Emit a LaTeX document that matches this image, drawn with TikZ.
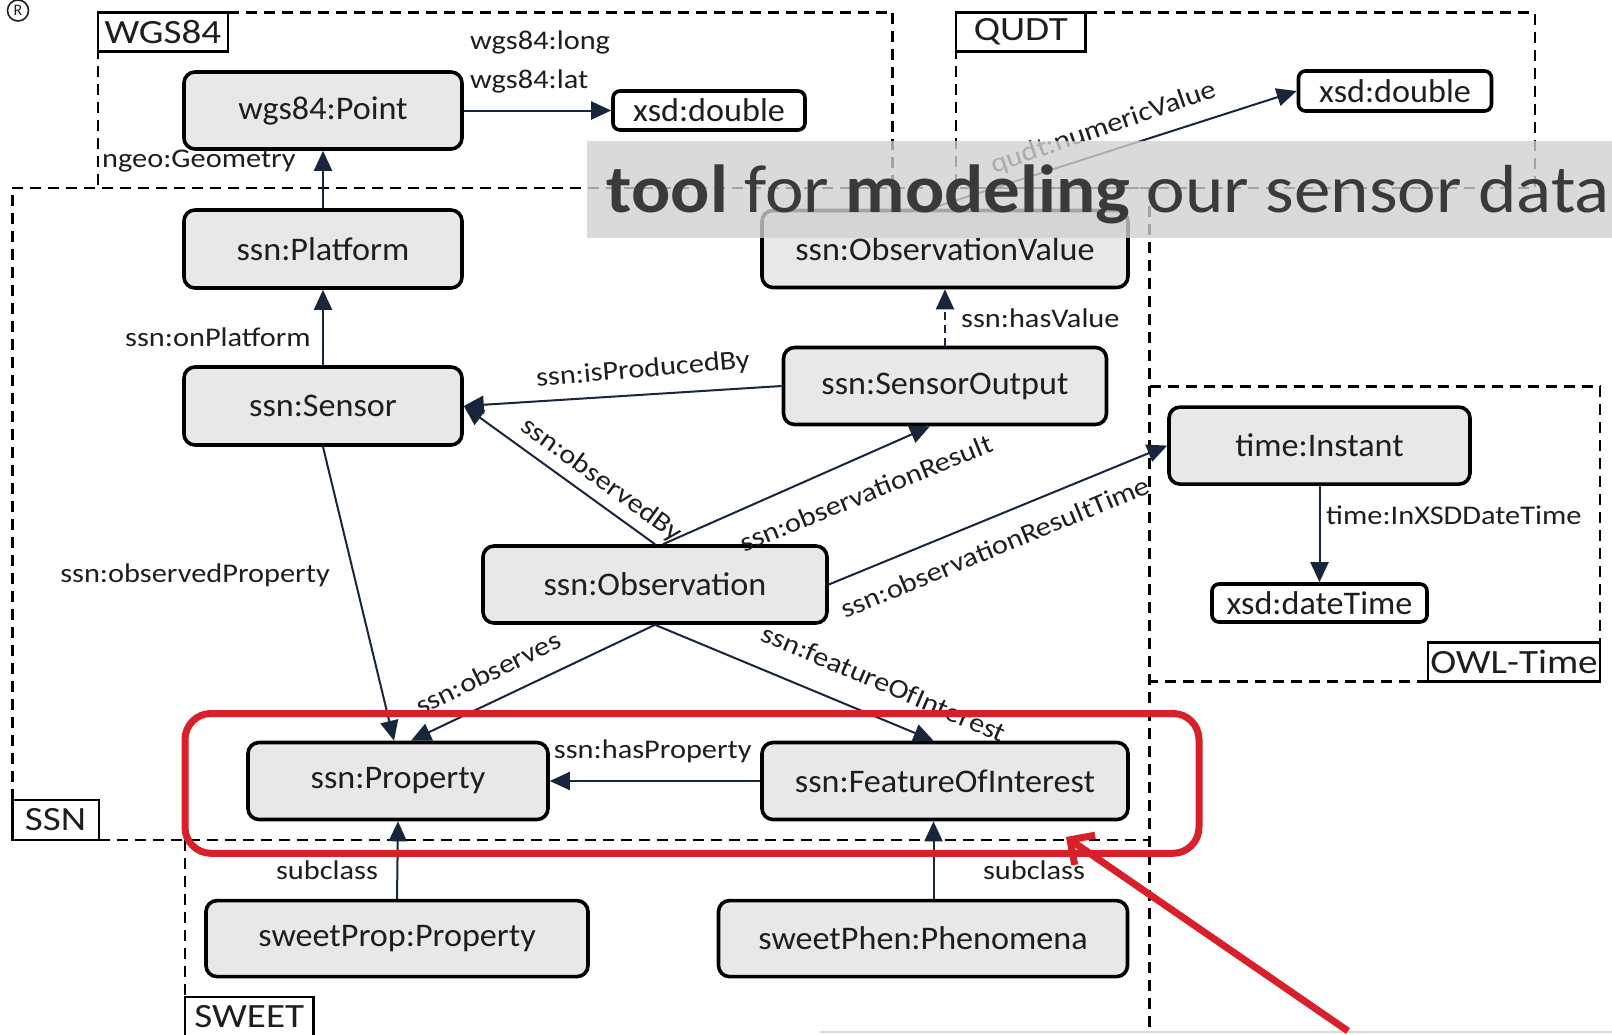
\documentclass[tikz,border=0pt]{standalone}
\usepackage{fontspec}
\setmainfont{Carlito}
\newfontfamily\classfont[FakeStretch=1.035]{Carlito}
\newfontfamily\propfont[FakeStretch=1.125]{Carlito}
\newfontfamily\groupfont[FakeStretch=1.15]{Carlito}
\newfontfamily\bannerfont[FakeStretch=1.075]{Carlito}
\usetikzlibrary{arrows.meta}

\definecolor{linkblue}{HTML}{17263B}
\definecolor{classfill}{HTML}{E8E8E8}
\definecolor{markred}{HTML}{D9202A}
\definecolor{bandgray}{HTML}{D1D1D1}
\definecolor{bandtext}{HTML}{3A3A3A}
\definecolor{inktext}{HTML}{1E1E1E}

\tikzset{
  classbox/.style={draw=black, line width=3.6pt, rounded corners=11pt,
    fill=classfill, text=inktext, inner sep=0pt,
    font=\classfont\fontsize{33}{38}\selectfont},
  valuebox/.style={classbox, fill=white, rounded corners=7pt},
  groupline/.style={draw=black, line width=2.4pt, dash pattern=on 11pt off 7pt},
  grouptag/.style={draw=black, line width=2.4pt, fill=white, inner sep=0pt,
    text=inktext, font=\groupfont\fontsize{34}{38}\selectfont},
  link/.style={draw=linkblue, line width=2pt,
    -{Triangle[length=20pt,width=18pt]}},
  linklabel/.style={text=inktext, inner sep=0pt,
    font=\propfont\fontsize{27}{31}\selectfont},
  marker/.style={draw=markred, line width=7pt},
}

\begin{document}
\begin{tikzpicture}[x=1pt,y=-1pt]
\useasboundingbox (0,0) rectangle (1612,1034);
\fill[white] (0,0) rectangle (1612,1034);

% ---------- ontology groups (dashed frames) ----------
% WGS84
\draw[groupline] (97.7,12.3) rectangle (892.4,188);
% QUDT
\draw[groupline] (956,12.3) rectangle (1535,188);
% SSN
\draw[groupline] (12.3,800) -- (12.3,188) -- (1149.5,188);
\draw[groupline] (98.7,840) -- (1149.5,840);
% common right border of SSN / SWEET
\draw[groupline] (1149.5,188) -- (1149.5,1034);
% SWEET
\draw[groupline] (185,840) -- (185,1000);
% OWL-Time
\draw[groupline] (1149.5,386.6) -- (1600,386.6) -- (1600,681.6) -- (1149.5,681.6);

\node[grouptag, minimum width=130pt, minimum height=39pt] (tagwgs) at (162.9,31.9) {WGS84};
\node[grouptag, minimum width=129.6pt, minimum height=39pt] (tagqudt) at (1020.8,31.9) {QUDT};
\node[grouptag, minimum width=86.4pt, minimum height=40pt] (tagssn) at (55.5,820) {SSN};
\node[grouptag, minimum width=128.6pt, minimum height=39pt] (tagsweet) at (249.3,1016.5) {SWEET};
\node[grouptag, minimum width=172pt, minimum height=39pt] (tagtime) at (1514,662) {OWL-Time};

% ---------- classes ----------
\node[classbox, minimum width=278pt, minimum height=77pt] (point) at (323,110.5) {wgs84:Point};
\node[valuebox, minimum width=192pt, minimum height=39pt] (dblwgs) at (709,110.5) {xsd:double};
\node[valuebox, minimum width=193pt, minimum height=40pt] (dblqudt) at (1395,91) {xsd:double};
\node[classbox, minimum width=278pt, minimum height=78pt] (platform) at (323,249) {ssn:Platform};
\node[classbox, minimum width=366pt, minimum height=77pt] (obsvalue) at (945,249) {ssn:ObservationValue};
\node[classbox, minimum width=278pt, minimum height=78pt] (sensor) at (323,406) {ssn:Sensor};
\node[classbox, minimum width=323pt, minimum height=77pt] (output) at (945,386) {ssn:SensorOutput};
\node[classbox, minimum width=301pt, minimum height=77pt] (instant) at (1319.5,445.6) {time:Instant};
\node[valuebox, minimum width=215pt, minimum height=38pt] (datetime) at (1319.5,603) {xsd:dateTime};
\node[classbox, minimum width=344pt, minimum height=77pt] (observation) at (655,584.5) {ssn:Observation};
\node[classbox, minimum width=300pt, minimum height=77pt] (property) at (398,781) {ssn:Property};
\node[classbox, minimum width=366pt, minimum height=77pt] (feature) at (945,781) {ssn:FeatureOfInterest};
\node[classbox, minimum width=382pt, minimum height=76pt] (sweetprop) at (397,938.6) {sweetProp:Property};
\node[classbox, minimum width=409pt, minimum height=76pt] (sweetphen) at (923,938.6) {sweetPhen:Phenomena};

% ---------- properties ----------
\draw[link] (point.east) -- (dblwgs.west);
\draw[link] (platform.north) -- (point.south);
\draw[link] (sensor.north) -- (platform.south);
\draw[link] (output.west) -- (sensor.east);
\draw[link] (observation.north) -- (sensor.east);
\draw[link] ([xshift=8pt]observation.north) -- ([xshift=-15pt]output.south);
\draw[link, dash pattern=on 8pt off 5pt] (output.north) -- (obsvalue.south);
\draw[link] ([xshift=-15pt]obsvalue.north) -- (dblqudt.west);
\draw[link] (observation.east) -- (instant.west);
\draw[link] (instant.south) -- (datetime.north);
\draw[link] (sensor.south) -- ([xshift=-4pt]property.north);
\draw[link] (observation.south) -- ([xshift=13pt]property.north);
\draw[link] (observation.south) -- ([xshift=-11.5pt]feature.north);
\draw[link] (feature.west) -- (property.east);
\draw[link] (sweetprop.north) -- (property.south);
\draw[link] ([xshift=10.5pt]sweetphen.north) -- ([xshift=-11.5pt]feature.south);

\node[linklabel, anchor=west] (lblong) at (470,42) {wgs84:long};
\node[linklabel, anchor=west] (lblat) at (470,81) {wgs84:lat};
\node[linklabel, anchor=west] (lbgeo) at (102,161) {ngeo:Geometry};
\node[linklabel] (lbonplat) at (218,337) {ssn:onPlatform};
\node[linklabel, rotate=5] (lbprod) at (643,370) {ssn:isProducedBy};
\node[linklabel, rotate=-36] (lbobsby) at (601,480) {ssn:observedBy};
\node[linklabel, rotate=22] (lbresult) at (866,493) {ssn:observationResult};
\node[linklabel, anchor=west] (lbvalue) at (961,318.7) {ssn:hasValue};
\node[linklabel, rotate=19] (lbnumeric) at (1104,128) {qudt:numericValue};
\node[linklabel, rotate=22.5] (lbrtime) at (995.4,547) {ssn:observationResultTime};
\node[linklabel, anchor=west] (lbxsdtime) at (1326,515) {time:InXSDDateTime};
\node[linklabel] (lbobsprop) at (195,575) {ssn:observedProperty};
\node[linklabel, rotate=26] (lbobserves) at (488,673) {ssn:observes};
\node[linklabel, rotate=-23] (lbfoi) at (884,683) {ssn:featureOfInterest};
\node[linklabel] (lbhasprop) at (652.8,751.5) {ssn:hasProperty};
\node[linklabel] (lbsubA) at (327,870) {subclass};
\node[linklabel] (lbsubB) at (1034,870) {subclass};

% ---------- slide overlay ----------
\node[circle, draw=inktext, line width=1.6pt, inner sep=0pt, minimum size=21pt,
      text=inktext, font=\fontsize{16}{16}\selectfont] (regmark) at (18,10.5) {R};
\draw[gray!30, line width=1.5pt] (820,1032) -- (1612,1032);

\fill[bandgray, fill opacity=0.79] (587,141) rectangle (1612,237.5);
\node[anchor=base west, inner sep=0pt, text=bandtext,
      font=\bannerfont\fontsize{68}{72}\selectfont] (headline) at (606.6,212.5)
  {\textbf{tool} for \textbf{modeling} our sensor data};

\draw[marker, rounded corners=26pt] (185,713.5) rectangle (1199,853.3);
\coordinate (pointer-tail) at (1348,1031);
\coordinate (pointer-tip) at (1066,837);
\draw[marker, -{Straight Barb[length=18pt,width=36pt]}] (pointer-tail) -- (pointer-tip);
\end{tikzpicture}
\end{document}
